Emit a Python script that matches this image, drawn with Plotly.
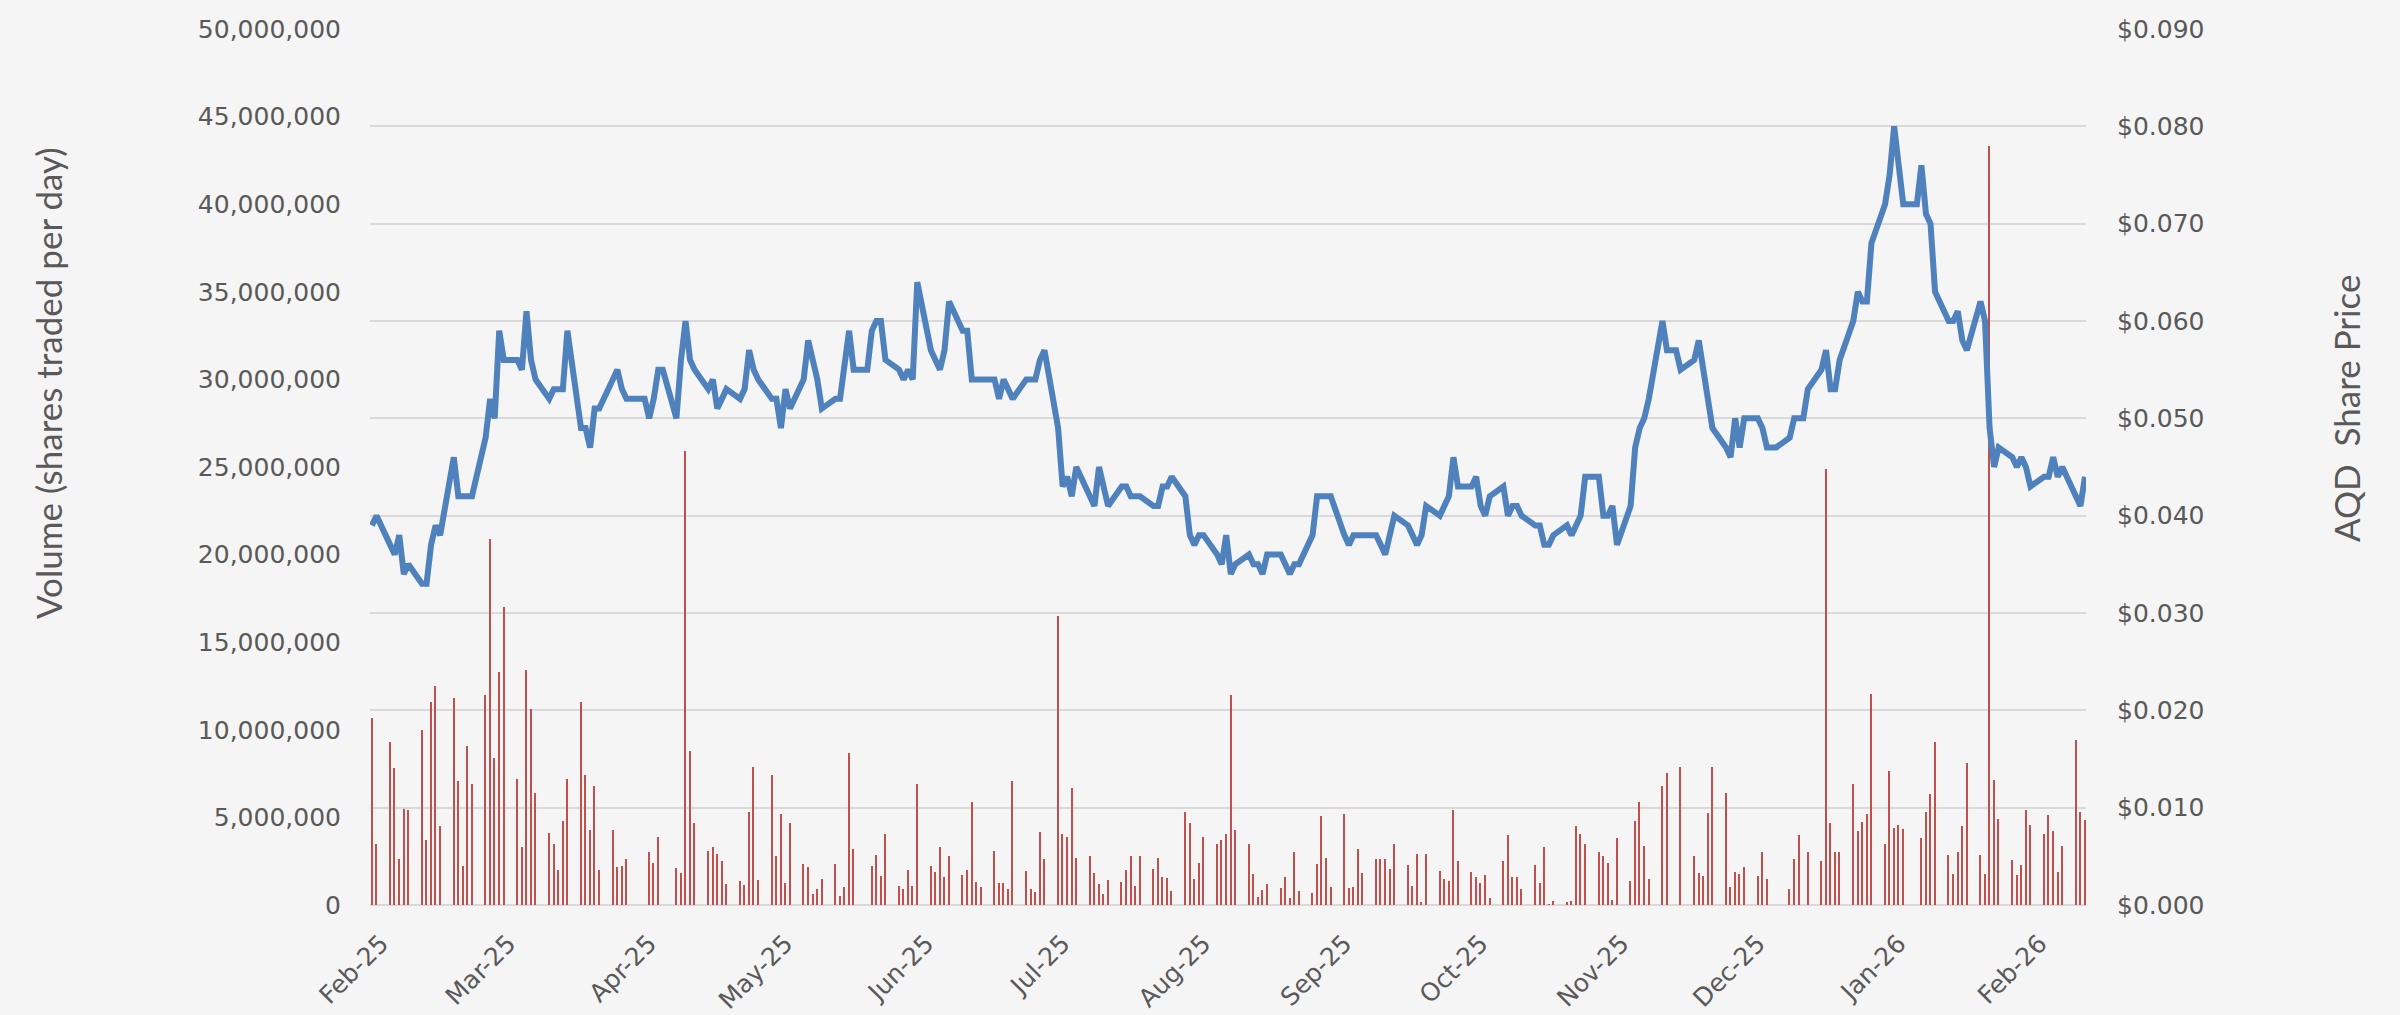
import pandas as pd
import plotly.graph_objects as go

# Weekday trading calendar (holidays carry the price with zero volume)
dates = pd.bdate_range("2025-02-20", "2026-03-04")

# AQD share price ($), one value per weekday (week by week)
price = [
    0.039, 0.040,                                  # Feb 20-21
    0.037, 0.036, 0.038, 0.034, 0.035,             # Feb 24
    0.033, 0.033, 0.037, 0.039, 0.038,             # Mar 3
    0.046, 0.042, 0.042, 0.042, 0.042,             # Mar 10
    0.048, 0.052, 0.050, 0.059, 0.056,             # Mar 17
    0.056, 0.055, 0.061, 0.056, 0.054,             # Mar 24
    0.052, 0.053, 0.053, 0.053, 0.059,             # Mar 31
    0.049, 0.049, 0.047, 0.051, 0.051,             # Apr 7
    0.054, 0.055, 0.053, 0.052, 0.052,             # Apr 14
    0.052, 0.050, 0.052, 0.055, 0.055,             # Apr 21
    0.050, 0.056, 0.060, 0.056, 0.055,             # Apr 28
    0.053, 0.054, 0.051, 0.052, 0.053,             # May 5
    0.052, 0.053, 0.057, 0.055, 0.054,             # May 12
    0.052, 0.052, 0.049, 0.053, 0.051,             # May 19
    0.054, 0.058, 0.056, 0.054, 0.051,             # May 26
    0.052, 0.052, 0.055, 0.059, 0.055,             # Jun 2
    0.055, 0.059, 0.060, 0.060, 0.056,             # Jun 9
    0.055, 0.054, 0.055, 0.054, 0.064,             # Jun 16
    0.057, 0.056, 0.055, 0.057, 0.062,             # Jun 23
    0.059, 0.059, 0.054, 0.054, 0.054,             # Jun 30
    0.054, 0.052, 0.054, 0.053, 0.052,             # Jul 7
    0.054, 0.054, 0.054, 0.056, 0.057,             # Jul 14
    0.049, 0.043, 0.044, 0.042, 0.045,             # Jul 21
    0.042, 0.041, 0.045, 0.043, 0.041,             # Jul 28
    0.043, 0.043, 0.042, 0.042, 0.042,             # Aug 4
    0.041, 0.041, 0.043, 0.043, 0.044,             # Aug 11
    0.042, 0.038, 0.037, 0.038, 0.038,             # Aug 18
    0.036, 0.035, 0.038, 0.034, 0.035,             # Aug 25
    0.036, 0.035, 0.035, 0.034, 0.036,             # Sep 1
    0.036, 0.035, 0.034, 0.035, 0.035,             # Sep 8
    0.038, 0.042, 0.042, 0.042, 0.042,             # Sep 15
    0.038, 0.037, 0.038, 0.038, 0.038,             # Sep 22
    0.038, 0.037, 0.036, 0.038, 0.040,             # Sep 29
    0.039, 0.038, 0.037, 0.038, 0.041,             # Oct 6
    0.040, 0.041, 0.042, 0.046, 0.043,             # Oct 13
    0.043, 0.044, 0.041, 0.040, 0.042,             # Oct 20
    0.043, 0.040, 0.041, 0.041, 0.040,             # Oct 27
    0.039, 0.039, 0.037, 0.037, 0.038,             # Nov 3
    0.039, 0.038, 0.039, 0.040, 0.044,             # Nov 10
    0.044, 0.040, 0.040, 0.041, 0.037,             # Nov 17
    0.041, 0.047, 0.049, 0.050, 0.052,             # Nov 24
    0.060, 0.057, 0.057, 0.057, 0.055,             # Dec 1
    0.056, 0.058, 0.055, 0.051, 0.049,             # Dec 8
    0.047, 0.046, 0.050, 0.047, 0.050,             # Dec 15
    0.050, 0.049, 0.047, 0.047, 0.047,             # Dec 22
    0.048, 0.050, 0.050, 0.050, 0.053,             # Dec 29
    0.055, 0.057, 0.053, 0.053, 0.056,             # Jan 5
    0.060, 0.063, 0.062, 0.062, 0.068,             # Jan 12
    0.072, 0.075, 0.080, 0.076, 0.072,             # Jan 19
    0.072, 0.076, 0.071, 0.070, 0.063,             # Jan 26
    0.060, 0.060, 0.061, 0.058, 0.057,             # Feb 2
    0.062, 0.060, 0.049, 0.045, 0.047,             # Feb 9
    0.046, 0.045, 0.046, 0.045, 0.043,             # Feb 16
    0.044, 0.044, 0.046, 0.044, 0.045,             # Feb 23
    0.042, 0.041, 0.044,                           # Mar 2-4
]

# Daily volume, millions of shares
volume_m = [
    10.7, 3.5,
    9.3, 7.8, 2.65, 5.5, 5.45,
    10.0, 3.7, 11.6, 12.5, 4.5,
    11.8, 7.1, 2.2, 9.1, 6.9,
    12.0, 20.9, 8.4, 13.3, 17.0,
    7.2, 3.3, 13.4, 11.2, 6.4,
    4.1, 3.5, 2.0, 4.8, 7.2,
    11.6, 7.4, 4.3, 6.8, 2.0,
    4.3, 2.15, 2.2, 2.6, 0,
    0, 3.0, 2.4, 3.9, 0,
    2.1, 1.8, 25.9, 8.8, 4.7,
    3.1, 3.3, 2.9, 2.5, 1.2,
    1.35, 1.15, 5.3, 7.9, 1.45,
    7.4, 2.8, 5.2, 1.25, 4.7,
    2.35, 2.15, 0.6, 0.9, 1.5,
    2.35, 0.5, 1.0, 8.7, 3.2,
    0, 2.25, 2.85, 1.65, 4.05,
    1.1, 0.9, 2.0, 1.1, 6.9,
    2.2, 1.9, 3.3, 1.6, 2.8,
    1.7, 2.0, 5.9, 1.3, 1.0,
    3.1, 1.25, 1.25, 0.9, 7.1,
    1.95, 0.9, 0.75, 4.15, 2.65,
    16.5, 4.05, 3.9, 6.7, 2.7,
    2.8, 1.85, 1.2, 0.6, 1.4,
    1.3, 2.0, 2.8, 1.1, 2.8,
    2.05, 2.7, 1.6, 1.55, 0.8,
    5.3, 4.7, 1.5, 2.4, 3.9,
    3.5, 3.7, 4.05, 12.0, 4.3,
    3.5, 1.75, 0.45, 0.85, 1.2,
    0.95, 1.6, 0.4, 3.05, 0.8,
    0.7, 2.35, 5.1, 2.7, 1.05,
    5.2, 0.95, 1.0, 3.2, 1.8,
    2.65, 2.65, 2.6, 2.05, 3.5,
    2.3, 1.1, 2.9, 0.15, 2.9,
    1.95, 1.5, 1.35, 5.4, 2.5,
    1.9, 1.6, 1.25, 1.7, 0.4,
    2.5, 4.0, 1.6, 1.6, 0.9,
    2.3, 1.25, 3.3, 0.05, 0.25,
    0.2, 0.25, 4.5, 4.05, 3.5,
    3.05, 2.8, 2.4, 0.3, 3.8,
    1.35, 4.8, 5.9, 3.35, 1.5,
    6.8, 7.55, 0, 0, 7.85,
    2.8, 1.85, 1.65, 5.25, 7.9,
    6.4, 1.05, 1.9, 1.75, 2.15,
    1.65, 3.0, 1.5, 0, 0,
    0.9, 2.6, 4.0, 0, 3.0,
    2.5, 24.9, 4.7, 3.0, 3.0,
    6.9, 4.2, 4.75, 5.2, 12.05,
    3.5, 7.65, 4.4, 4.55, 4.35,
    0, 3.85, 5.3, 6.35, 9.3,
    2.85, 1.75, 3.05, 4.5, 8.1,
    2.85, 1.75, 43.3, 7.15, 4.9,
    2.55, 1.7, 2.3, 5.4, 4.55,
    4.05, 5.15, 4.2, 1.9, 3.35,
    9.4, 5.3, 4.85,
]

# Month label anchors (label text ends just right of the 20th of each month)
tick_dates = ["2025-02-22", "2025-03-22", "2025-04-22", "2025-05-22", "2025-06-22",
              "2025-07-22", "2025-08-22", "2025-09-22", "2025-10-22", "2025-11-22",
              "2025-12-22", "2026-01-22", "2026-02-22"]
tick_labels = ["Feb-25", "Mar-25", "Apr-25", "May-25", "Jun-25", "Jul-25", "Aug-25",
               "Sep-25", "Oct-25", "Nov-25", "Dec-25", "Jan-26", "Feb-26"]
vol_ticks = [0, 5e6, 10e6, 15e6, 20e6, 25e6, 30e6, 35e6, 40e6, 45e6, 50e6]

volume = [v * 1e6 for v in volume_m]

GREY = "#595959"
tickfont = dict(family="DejaVu Sans", size=25, color=GREY)

fig = go.Figure()
fig.add_trace(go.Bar(
    x=dates, y=volume, yaxis="y",
    marker=dict(color="#C0504D", line=dict(width=0)),
    width=0.32 * 86400000, name="Volume",
))
fig.add_trace(go.Scatter(
    x=dates, y=price, yaxis="y2", mode="lines",
    line=dict(color="#4F81BD", width=6), name="Price",
))

day = pd.Timedelta(days=1)
start = pd.Timestamp("2025-02-20")
x_range = [start - 0.44 * day, start + 377.22 * day]

fig.update_layout(
    width=2400, height=1015,
    margin=dict(l=370, r=314, t=29, b=110, autoexpand=False),
    paper_bgcolor="#f5f5f5", plot_bgcolor="#f5f5f5",
    showlegend=False, bargap=0,
    xaxis=dict(
        type="date", range=x_range, tickmode="array",
        tickvals=tick_dates, ticktext=tick_labels, tickangle=-45,
        tickfont=tickfont, showgrid=False, zeroline=False, showline=False,
        ticks="", ticklabelstandoff=18, automargin=False,
    ),
    yaxis=dict(
        range=[0, 50e6], tickmode="array", tickvals=vol_ticks, tickformat=",d",
        showgrid=False, zeroline=False, showline=False, ticks="",
        tickfont=tickfont, ticklabelstandoff=28, automargin=False,
    ),
    yaxis2=dict(
        overlaying="y", side="right", range=[0, 0.09], tick0=0, dtick=0.01,
        tickformat="$.3f", showgrid=True, gridcolor="#d9d9d9", gridwidth=2,
        zeroline=True, zerolinecolor="#d9d9d9", zerolinewidth=2,
        showline=False, ticks="", tickfont=tickfont, ticklabelstandoff=30,
        automargin=False,
    ),
    annotations=[
        dict(text="Volume (shares traded per day)", xref="paper", yref="paper",
             x=(48 - 370) / 1716, y=(905 - 383) / 876, textangle=-90,
             showarrow=False, xanchor="center", yanchor="middle",
             font=dict(family="Lato", size=35, color=GREY)),
        dict(text="AQD\u00a0 Share Price", xref="paper", yref="paper",
             x=(2346 - 370) / 1716, y=(905 - 409) / 876, textangle=-90,
             showarrow=False, xanchor="center", yanchor="middle",
             font=dict(family="Lato", size=35, color=GREY)),
    ],
)

fig.write_html("out.html", config={"displayModeBar": False},
               post_script="document.body.style.margin='0';")
